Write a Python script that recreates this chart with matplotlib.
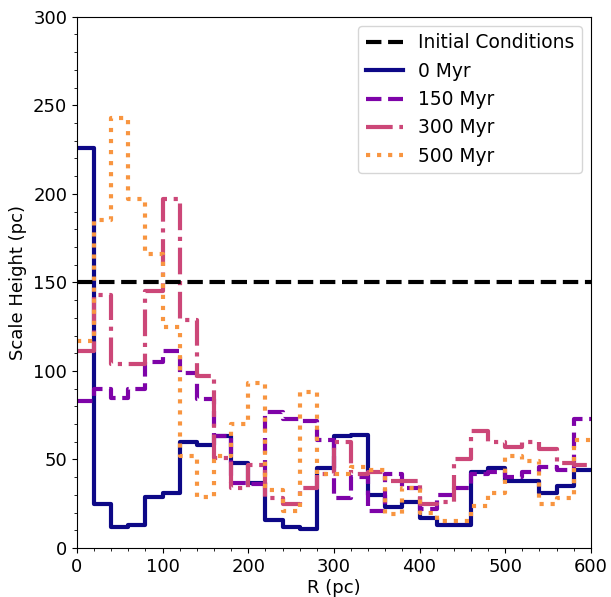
import numpy as np
import matplotlib
matplotlib.use('Agg')
import matplotlib.pyplot as plt
from matplotlib.ticker import MultipleLocator

# radial bins (pc)
r_edges = np.arange(0, 601, 20)

h_init = 150

h_0 = [226, 25, 12, 13, 29, 31, 60, 58, 63, 48,
       37, 16, 12, 11, 45, 63, 64, 30, 23, 26,
       17, 13, 13, 43, 45, 38, 38, 31, 35, 44]
h_150 = [83, 90, 85, 90, 105, 111, 99, 84, 63, 37,
         36, 77, 73, 72, 61, 28, 40, 21, 42, 34,
         22, 30, 34, 42, 43, 40, 43, 46, 44, 73]
h_300 = [111, 143, 104, 104, 145, 197, 129, 97, 51, 34,
         47, 28, 25, 34, 42, 60, 42, 43, 38, 38,
         25, 26, 50, 66, 60, 57, 60, 56, 48, 47]
h_500 = [117, 185, 243, 197, 166, 125, 52, 29, 52, 70,
         93, 33, 21, 88, 42, 42, 46, 44, 19, 34,
         20, 15, 15, 24, 31, 52, 49, 25, 28, 61]

series = [('0 Myr', h_0, '-'),
          ('150 Myr', h_150, '--'),
          ('300 Myr', h_300, '-.'),
          ('500 Myr', h_500, ':')]
cols = plt.cm.plasma(np.linspace(0, 0.75, 4))

fig, ax = plt.subplots(figsize=(6.11, 5.97), dpi=100)
fig.subplots_adjust(left=0.126, right=0.967, top=0.972, bottom=0.082)

ax.axhline(h_init, color='k', ls='--', lw=3, label='Initial Conditions', zorder=5)
for (lab, h, ls), c in zip(series, cols):
    y = np.append(h, h[-1])
    ax.step(r_edges, y, where='post', color=c, ls=ls, lw=3, label=lab)

ax.set_xlim(0, 600)
ax.set_ylim(0, 300)
ax.xaxis.set_minor_locator(MultipleLocator(20))
ax.yaxis.set_minor_locator(MultipleLocator(10))
ax.tick_params(labelsize=13)
ax.set_xlabel('R (pc)', fontsize=13, labelpad=2)
ax.set_ylabel('Scale Height (pc)', fontsize=13)
ax.legend(loc='upper right', fontsize=13.4)

fig.savefig('out.png', dpi=100)
